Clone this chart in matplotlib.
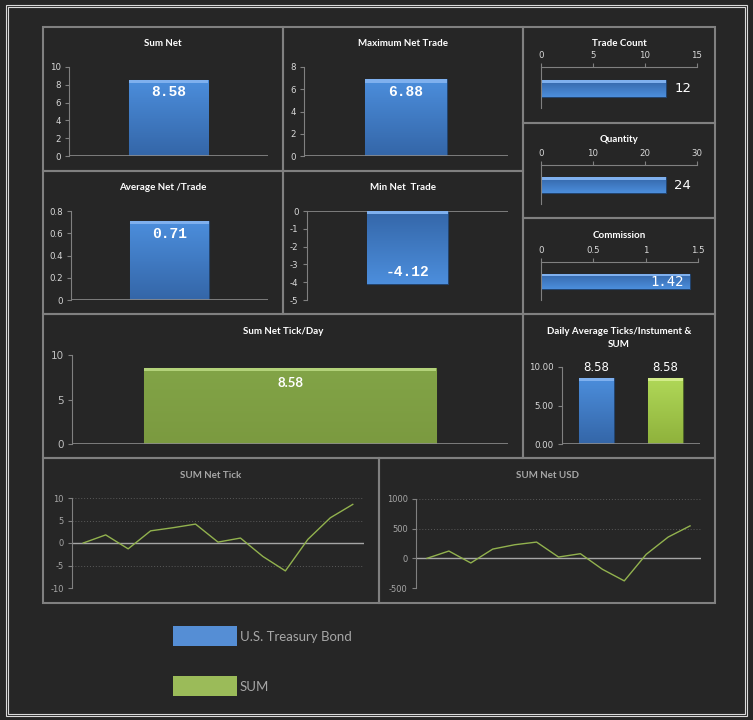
import numpy as np
import matplotlib.pyplot as plt
from matplotlib.patches import Rectangle
from matplotlib.colors import LinearSegmentedColormap

# values
sum_net = 8.58
max_net_trade = 6.88
avg_net_trade = 0.71
min_net_trade = -4.12
trade_count = 12
quantity = 24
commission = 1.42
tick_per_day = 8.58
series_names = ['U.S. Treasury Bond', 'SUM']
daily_avg = [8.58, 8.58]
net_tick = [0, 1.8, -1.3, 2.7, 3.4, 4.2, 0.2, 1.1, -3.0, -6.2, 0.8, 5.6, 8.58]
net_usd = [0, 123, -78, 156, 229, 274, 22, 78, -184, -380, 67, 358, 547]

W, H = 753, 720
BG = '#262626'
PANEL = '#808080'
BLUE = ('#4c8edc', '#3466a8', '#7fb0ee')
GREEN = ('#82a447', '#7b9a40', '#b3d27a')
LGREEN = ('#b0d858', '#8fb23c', '#d2ec8a')
TITLE_FONT = 'Lato'
MONO = 'Liberation Mono'

fig = plt.figure(figsize=(W / 100, H / 100), dpi=100, facecolor=BG)


def px_axes(x0, y0, x1, y1):
    ax = fig.add_axes([x0 / W, 1 - y1 / H, (x1 - x0) / W, (y1 - y0) / H])
    ax.set_facecolor('none')
    for s in ax.spines.values():
        s.set_visible(False)
    return ax


def box(x0, y0, x1, y1, color=PANEL, lw=1.5):
    fig.patches.append(Rectangle((x0 / W, 1 - y1 / H), (x1 - x0) / W, (y1 - y0) / H,
                                 transform=fig.transFigure, fill=False, ec=color, lw=lw))


def title(x, y, s, color='white', size=7):
    fig.text(x / W, 1 - y / H, s, ha='center', va='center', color=color,
             fontsize=size, fontweight='bold', family=TITLE_FONT)


def shaded_bar(ax, x, v, width, colors, horizontal=False):
    top, bottom, light = colors
    cmap = LinearSegmentedColormap.from_list('b', [bottom, top])
    if horizontal:
        bar = ax.barh(x, v, height=width, color=top, ec='#23446e', lw=0.8)[0]
    else:
        bar = ax.bar(x, v, width=width, color=top, ec='#23446e' if colors is BLUE else '#4f6628', lw=0.8)[0]
    bx, by = bar.get_x(), bar.get_y()
    bw, bh = bar.get_width(), bar.get_height()
    grad = np.linspace(0, 1, 64).reshape(-1, 1)
    im = ax.imshow(grad, extent=(bx, bx + bw, by, by + bh), origin='lower',
                   cmap=cmap, aspect='auto', zorder=bar.get_zorder())
    im.set_clip_path(bar)
    # bevel strip along the upper edge
    if horizontal:
        lo, hi = ax.get_ylim()
        s = abs(hi - lo) * 0.06
        yb = by + bh - s if hi > lo else by
        ax.add_patch(Rectangle((bx, yb), bw, s, color=light, zorder=bar.get_zorder() + 1, lw=0))
    else:
        lo, hi = ax.get_ylim()
        s = (hi - lo) * 0.035
        ax.add_patch(Rectangle((bx, max(by, by + bh) - s), bw, s, color=light,
                               zorder=bar.get_zorder() + 1, lw=0))
    return bar


def small_ticks(ax, size=6.2, color='#d9d9d9'):
    ax.tick_params(axis='y', colors=PANEL, labelcolor=color, labelsize=size,
                   length=3, width=0.8, direction='out', pad=3)
    ax.tick_params(axis='x', length=0, labelbottom=False)
    for lab in ax.get_yticklabels():
        lab.set_family('DejaVu Sans')


def vbar_panel(box_px, value, ylim, yticks, label_dy, colors=BLUE):
    ax = px_axes(*box_px)
    ax.set_xlim(-0.5, 0.5)
    ax.set_ylim(*ylim)
    ax.set_yticks(yticks)
    ax.set_yticklabels([f'{t:g}' for t in yticks])
    ax.spines['left'].set_visible(True)
    ax.spines['left'].set_color(PANEL)
    ax.axhline(0, color='#8c8c8c', lw=1.2)
    small_ticks(ax)
    shaded_bar(ax, 0, value, 0.4, colors)
    ax.annotate(f'{value:.2f}', (0, value), xytext=(0, label_dy), textcoords='offset points',
                ha='center', va='center', color='white', fontsize=10.5,
                fontweight='bold', family=MONO, zorder=5)
    return ax


def hbar_panel(box_px, value, xmax, xticks, label, inside=False):
    ax = px_axes(*box_px)
    ax.set_ylim(0.5, -0.5)
    ax.set_xlim(0, xmax)
    ax.set_xticks(xticks)
    ax.set_xticklabels([f'{t:g}' for t in xticks])
    ax.xaxis.tick_top()
    ax.spines['top'].set_visible(True)
    ax.spines['left'].set_visible(True)
    ax.spines['top'].set_color(PANEL)
    ax.spines['left'].set_color(PANEL)
    ax.tick_params(axis='x', colors=PANEL, labelcolor='#d9d9d9', labelsize=6.2,
                   length=3, width=0.8, direction='out', pad=2)
    ax.tick_params(axis='y', length=0, labelleft=False)
    shaded_bar(ax, 0.02, value, 0.4, BLUE, horizontal=True)
    if inside:
        ax.annotate(label, (value, 0.02), xytext=(-4, 0), textcoords='offset points',
                    ha='right', va='center', color='white', fontsize=10, family='DejaVu Sans Mono', zorder=5)
    else:
        ax.annotate(label, (value, 0.02), xytext=(6, 0), textcoords='offset points',
                    ha='left', va='center', color='white', fontsize=9.5, family='DejaVu Sans', zorder=5)
    return ax


def line_panel(box_px, values, yticks, name):
    ax = px_axes(*box_px)
    ax.set_xlim(-0.5, len(values) - 0.5)
    ax.set_ylim(yticks[0], yticks[-1])
    ax.set_yticks(yticks)
    ax.set_yticklabels([f'{t:g}' for t in yticks])
    ax.yaxis.grid(True, ls=(0, (1, 2)), color='#5a5a5a', lw=0.7)
    ax.set_axisbelow(True)
    ax.spines['left'].set_visible(True)
    ax.spines['left'].set_color(PANEL)
    ax.axhline(0, color='#a6a6a6', lw=1)
    small_ticks(ax, size=6, color='#a6a6a6')
    ax.plot(np.arange(len(values)), values, color='#92b24e', lw=1, label=name)
    return ax


# outer double frame
box(6, 5, 747, 716, '#d9d9d9', 0.8)
box(8, 7, 745, 714, '#d9d9d9', 0.8)

# panel frames
panels = [(43, 27, 283, 171), (283, 27, 523, 171), (523, 27, 715, 123),
          (523, 123, 715, 218), (523, 218, 715, 314), (43, 171, 283, 314),
          (283, 171, 523, 314), (43, 314, 523, 458), (523, 314, 715, 458),
          (43, 458, 379, 603), (379, 458, 715, 603)]
for p in panels:
    box(*p)

# top-left bar charts
title(163, 43, 'Sum Net')
vbar_panel((69, 67, 268, 156), sum_net, (0, 10), [0, 2, 4, 6, 8, 10], -9)
title(403, 43, 'Maximum Net Trade')
vbar_panel((304, 67, 508, 156), max_net_trade, (0, 8), [0, 2, 4, 6, 8], -9)
title(163, 187, 'Average Net /Trade')
vbar_panel((71, 211, 268, 300), avg_net_trade, (0, 0.8), [0, 0.2, 0.4, 0.6, 0.8], -9)
title(403, 187, 'Min Net  Trade')
vbar_panel((307, 211, 508, 300), min_net_trade, (-5, 0), [-5, -4, -3, -2, -1, 0], 9)

# right column horizontal bars
title(619, 43, 'Trade Count')
hbar_panel((541, 67, 697, 108), trade_count, 15, [0, 5, 10, 15], f'{trade_count}')
title(619, 140, 'Quantity')
hbar_panel((541, 165, 697, 204), quantity, 30, [0, 10, 20, 30], f'{quantity}')
title(619, 236, 'Commission')
hbar_panel((541, 262, 698, 300), commission, 1.5, [0, 0.5, 1, 1.5], f'{commission:.2f}', inside=True)

# Sum Net Tick/Day
title(283, 332, 'Sum Net Tick/Day')
ax = px_axes(72, 355, 508, 444)
ax.set_xlim(-0.5, 0.5)
ax.set_ylim(0, 10)
ax.set_yticks([0, 5, 10])
ax.spines['left'].set_visible(True)
ax.spines['left'].set_color(PANEL)
ax.axhline(0, color='#8c8c8c', lw=1.2)
small_ticks(ax, size=7.5, color='#bfbfbf')
shaded_bar(ax, 0, tick_per_day, 0.67, GREEN)
ax.annotate(f'{tick_per_day:.2f}', (0, tick_per_day), xytext=(0, -11), textcoords='offset points',
            ha='center', va='center', color='white', fontsize=9.5, fontweight='bold',
            family=TITLE_FONT, zorder=5)

# Daily average ticks per instrument & SUM
title(619, 332, 'Daily Average Ticks/Instument &')
title(619, 344, 'SUM')
ax = px_axes(562, 367, 700, 444)
ax.set_xlim(-0.5, 1.5)
ax.set_ylim(0, 10)
ax.set_yticks([0, 5, 10])
ax.set_yticklabels([f'{t:.2f}' for t in [0, 5, 10]])
ax.spines['left'].set_visible(True)
ax.spines['left'].set_color(PANEL)
ax.axhline(0, color='#8c8c8c', lw=1.2)
small_ticks(ax)
for i, (v, c) in enumerate(zip(daily_avg, [BLUE, LGREEN])):
    shaded_bar(ax, i, v, 0.5, c)
    ax.annotate(f'{v:.2f}', (i, v), xytext=(0, 3), textcoords='offset points',
                ha='center', va='bottom', color='white', fontsize=8.5, family='DejaVu Sans')

# line charts
title(211, 476, 'SUM Net Tick', color='#a6a6a6')
line_panel((72, 498, 364, 588), net_tick, [-10, -5, 0, 5, 10], 'SUM')
title(547, 476, 'SUM Net USD', color='#a6a6a6')
line_panel((416, 499, 701, 588), net_usd, [-500, 0, 500, 1000], 'SUM')

# legend
for (y0, c, name) in [(626, '#558ed5', series_names[0]), (676, '#9bbb59', series_names[1])]:
    fig.patches.append(Rectangle((173 / W, 1 - (y0 + 20) / H), 64 / W, 20 / H,
                                 transform=fig.transFigure, color=c, lw=0))
    fig.text(240 / W, 1 - (y0 + 11) / H, name, ha='left', va='center',
             color='#a6a6a6', fontsize=9.5, family=TITLE_FONT)

fig.savefig('out.png', dpi=100, facecolor=BG)
